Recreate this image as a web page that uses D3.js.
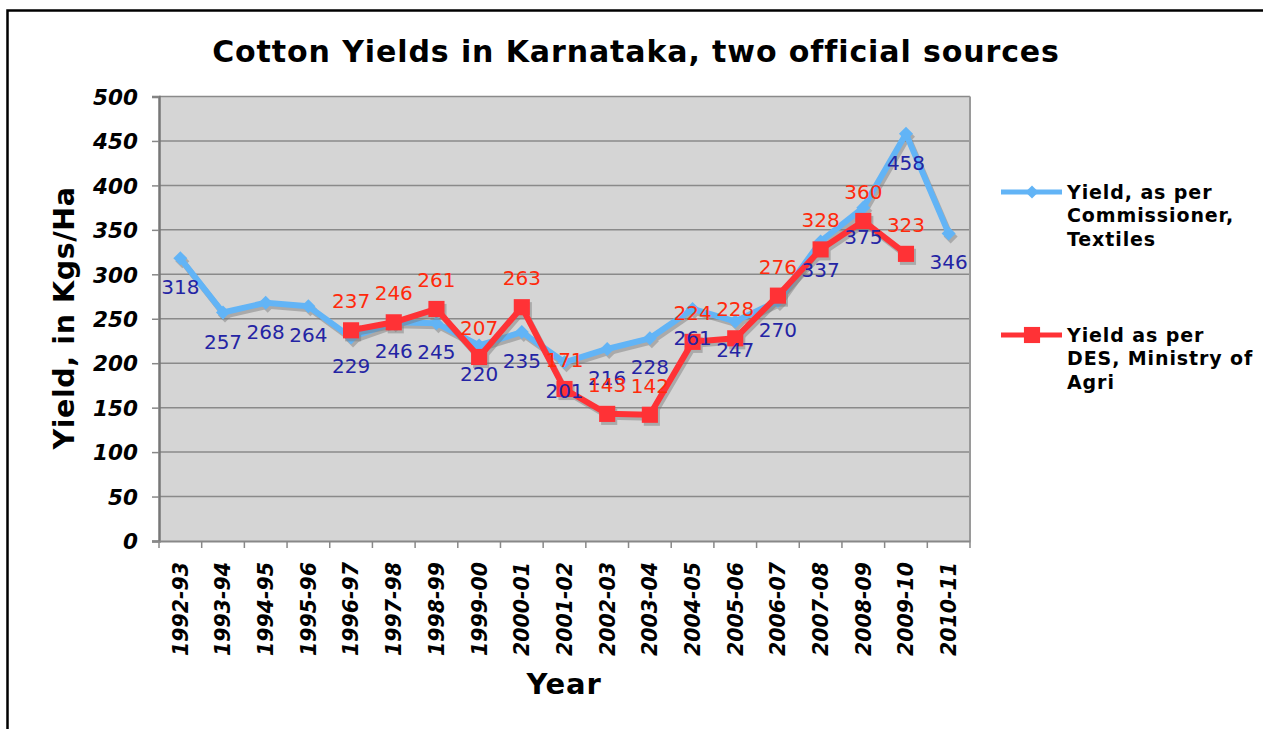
<!DOCTYPE html>
<html>
<head>
<meta charset="utf-8">
<script src="https://cdn.jsdelivr.net/npm/d3@7"></script>
<style>
  body { margin: 0; background: #fff; }
  text { font-family: "DejaVu Sans", Verdana, sans-serif; }
</style>
</head>
<body>
<div id="chart"></div>
<script>
/* DATA */
const years = ["1992-93","1993-94","1994-95","1995-96","1996-97","1997-98","1998-99","1999-00","2000-01",
  "2001-02","2002-03","2003-04","2004-05","2005-06","2006-07","2007-08","2008-09","2009-10","2010-11"];
const textilesYield = [318,257,268,264,229,246,245,220,235,201,216,228,261,247,270,337,375,458,346];
const desYield = [null,null,null,null,237,246,261,207,263,171,143,142,224,228,276,328,360,323,null];
const yTicks = [0,50,100,150,200,250,300,350,400,450,500];
const seriesNames = [["Yield, as per","Commissioner,","Textiles"],["Yield as per","DES, Ministry of","Agri"]];

/* CONSTANTS */
const width = 1263, height = 729;
const plot = { left: 159, right: 970, top: 96.5, bottom: 541 };
const blue = "#62b4f6", red = "#ff3236";

const svg = d3.select("#chart").append("svg")
  .attr("width", width).attr("height", height);

// outer frame
svg.append("path")
  .attr("d", `M7.5,${height} L7.5,10.5 L${width},10.5`)
  .attr("fill", "none").attr("stroke", "#000").attr("stroke-width", 2.5);

// title
svg.append("text")
  .attr("x", 636).attr("y", 62)
  .attr("text-anchor", "middle")
  .style("font-weight", "bold").style("font-size", "30px").style("letter-spacing", "0.9px")
  .text("Cotton Yields in Karnataka, two official sources");

/* SCALES */
const xScale = d3.scaleBand().domain(years).range([plot.left, plot.right]);
const yScale = d3.scaleLinear().domain([0, 500]).range([plot.bottom, plot.top]);
const cx = d => xScale(d) + xScale.bandwidth() / 2;

// plot background
svg.append("rect")
  .attr("x", plot.left).attr("y", plot.top)
  .attr("width", plot.right - plot.left).attr("height", plot.bottom - plot.top)
  .attr("fill", "#d5d5d5");

// gridlines
svg.append("g").selectAll("line")
  .data(yTicks.filter(d => d > 0))
  .join("line")
  .attr("x1", plot.left).attr("x2", plot.right)
  .attr("y1", d => yScale(d)).attr("y2", d => yScale(d))
  .attr("stroke", "#8a8a8a").attr("stroke-width", 1.5);

// right border
svg.append("line")
  .attr("x1", plot.right).attr("x2", plot.right)
  .attr("y1", plot.top).attr("y2", plot.bottom)
  .attr("stroke", "#9a9a9a").attr("stroke-width", 2);

/* AXES */
const yAxis = d3.axisLeft(yScale).tickValues(yTicks).tickSize(7).tickPadding(14);
const yG = svg.append("g").attr("transform", `translate(${plot.left},0)`).call(yAxis);
yG.select(".domain").attr("stroke", "#777").attr("stroke-width", 2.5);
yG.selectAll(".tick line").attr("stroke", "#888").attr("stroke-width", 1.5);
yG.selectAll(".tick text")
  .style("font-size", "21.5px").style("font-weight", "bold").style("font-style", "italic")
  .attr("fill", "#000").attr("dy", "0.36em");

const xAxis = d3.axisBottom(xScale).tickSize(0);
const xG = svg.append("g").attr("transform", `translate(0,${plot.bottom})`).call(xAxis);
xG.select(".domain").attr("stroke", "#888").attr("stroke-width", 2);
xG.selectAll(".tick text")
  .style("font-size", "20.5px").style("font-weight", "bold").style("font-style", "italic")
  .attr("fill", "#000")
  .attr("text-anchor", "end")
  .attr("transform", "rotate(-90)")
  .attr("x", -21).attr("y", 0).attr("dy", "0.36em");

// category boundary ticks
svg.append("g").selectAll("line")
  .data(years.concat(["end"]))
  .join("line")
  .attr("x1", (d, i) => plot.left + i * xScale.step())
  .attr("x2", (d, i) => plot.left + i * xScale.step())
  .attr("y1", plot.bottom).attr("y2", plot.bottom + 7)
  .attr("stroke", "#888").attr("stroke-width", 1.5);

// axis titles
svg.append("text")
  .attr("transform", `translate(74,318) rotate(-90)`)
  .attr("text-anchor", "middle")
  .style("font-weight", "bold").style("font-size", "28.5px").style("letter-spacing", "0.6px")
  .text("Yield, in Kgs/Ha");

svg.append("text")
  .attr("x", 564).attr("y", 694)
  .attr("text-anchor", "middle")
  .style("font-weight", "bold").style("font-size", "29px").style("letter-spacing", "0.8px")
  .text("Year");

/* LINES */
const rows1 = years.map((y, i) => ({ year: y, v: textilesYield[i] }));
const rows2 = years.map((y, i) => ({ year: y, v: desYield[i] }));
const line = d3.line().defined(d => d.v != null).x(d => cx(d.year)).y(d => yScale(d.v));

function drawSeries(rows, color, shape, size) {
  const data = rows.filter(d => d.v != null);
  const sym = d3.symbol().type(shape).size(size);
  // shadow
  const sh = svg.append("g").attr("transform", "translate(2,3)").attr("opacity", 0.45);
  sh.append("path").datum(rows).attr("d", line)
    .attr("fill", "none").attr("stroke", "#777").attr("stroke-width", 6).attr("stroke-linejoin", "round");
  sh.selectAll("path.m").data(data).join("path").attr("class", "m")
    .attr("transform", d => `translate(${cx(d.year)},${yScale(d.v)})`)
    .attr("d", sym).attr("fill", "#777");
  // line
  svg.append("path").datum(rows).attr("d", line)
    .attr("fill", "none").attr("stroke", color).attr("stroke-width", 6).attr("stroke-linejoin", "round");
  svg.append("g").selectAll("path").data(data).join("path")
    .attr("transform", d => `translate(${cx(d.year)},${yScale(d.v)})`)
    .attr("d", sym).attr("fill", color);
}

drawSeries(rows1, blue, d3.symbolDiamond2, 125);
drawSeries(rows2, red, d3.symbolSquare, 260);

/* DATA LABELS */
svg.append("g").selectAll("text")
  .data(rows1.filter(d => d.v != null))
  .join("text")
  .attr("x", d => cx(d.year)).attr("y", d => yScale(d.v) + 36)
  .attr("text-anchor", "middle")
  .attr("fill", "#2424a4").style("font-size", "20px")
  .text(d => d.v);

svg.append("g").selectAll("text")
  .data(rows2.filter(d => d.v != null))
  .join("text")
  .attr("x", d => cx(d.year)).attr("y", d => yScale(d.v) - 22)
  .attr("text-anchor", "middle")
  .attr("fill", "#ff2a0c").style("font-size", "20px")
  .text(d => d.v);

/* LEGEND */
const legendY = [192, 335];
const legendColors = [blue, red];
const legendShapes = [[d3.symbolDiamond2, 110], [d3.symbolSquare, 260]];
seriesNames.forEach((lines, i) => {
  const g = svg.append("g").attr("transform", `translate(0,${legendY[i]})`);
  g.append("line").attr("x1", 1001).attr("x2", 1062).attr("y1", 0).attr("y2", 0)
    .attr("stroke", legendColors[i]).attr("stroke-width", 5);
  g.append("path").attr("transform", "translate(1032,0)")
    .attr("d", d3.symbol().type(legendShapes[i][0]).size(legendShapes[i][1]))
    .attr("fill", legendColors[i]);
  g.append("text").attr("x", 1067).attr("y", 0)
    .style("font-weight", "bold").style("font-size", "19px").style("letter-spacing", "0.9px")
    .selectAll("tspan").data(lines).join("tspan")
    .attr("x", 1067).attr("y", (d, j) => j * 23.5).attr("dy", "0.36em")
    .text(d => d);
});
</script>
</body>
</html>
